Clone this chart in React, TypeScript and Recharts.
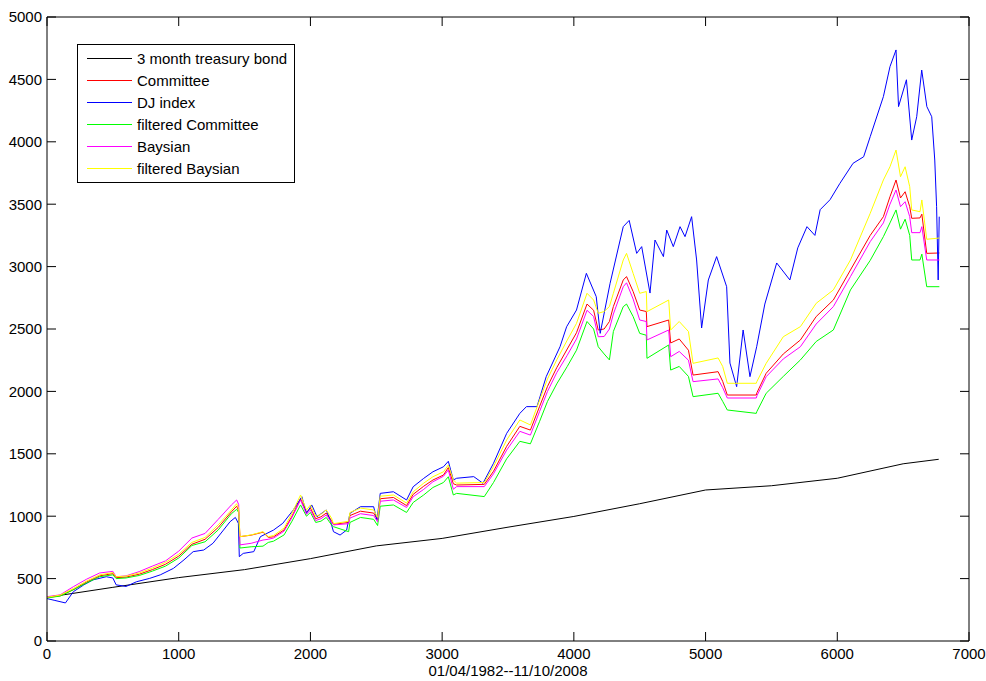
import { Legend, Line, LineChart, ReferenceLine, XAxis, YAxis } from "recharts";

const bondDay = [0, 500, 1000, 1500, 2000, 2500, 3000, 3500, 4000, 4500, 5000, 5500, 6000, 6500, 6770];
const bond = [350, 430, 508, 572, 660, 762, 822, 912, 998, 1100, 1210, 1244, 1304, 1420, 1456];

const djDay = [
  0, 60, 140, 200, 280, 350, 450, 500, 525, 600,
  680, 780, 860, 960, 1040, 1110, 1190, 1260, 1340, 1390,
  1430, 1453, 1460, 1490, 1570, 1620, 1720, 1790, 1870, 1935,
  1970, 2010, 2050, 2120, 2150, 2175, 2225, 2275, 2300, 2380,
  2480, 2505, 2530, 2630, 2730, 2780, 2860, 2930, 3010, 3047,
  3085, 3110, 3240, 3310, 3390, 3490, 3590, 3640, 3720, 3790,
  3895, 3945, 4020, 4095, 4170, 4200, 4275, 4375, 4420, 4477,
  4515, 4578, 4616, 4680, 4705, 4755, 4806, 4844, 4894, 4932,
  4970, 5021, 5084, 5160, 5185, 5236, 5285, 5337, 5388, 5450,
  5540, 5640, 5700, 5770, 5830, 5870, 5945, 6020, 6120, 6200,
  6250, 6350, 6400, 6446, 6465, 6525, 6565, 6603, 6641, 6680,
  6717, 6740, 6754, 6766, 6774,
];
const dj = [
  340, 325, 305, 395, 450, 490, 515, 505, 450, 437,
  475, 502, 530, 582, 650, 716, 729, 783, 889, 956,
  990, 943, 676, 702, 716, 836, 889, 943, 1050, 1156,
  1023, 1090, 996, 1050, 970, 876, 849, 889, 1023, 1076,
  1076, 970, 1183, 1196, 1130, 1236, 1303, 1356, 1396, 1440,
  1290, 1304, 1317, 1264, 1424, 1664, 1824, 1878, 1878, 2118,
  2358, 2518, 2652, 2946, 2759, 2465, 2866, 3320, 3370, 3106,
  3160, 2788, 3213, 3080, 3293, 3160, 3320, 3240, 3400, 3053,
  2508, 2893, 3080, 2839, 2227, 2038, 2492, 2118, 2358, 2700,
  3029, 2893, 3150, 3320, 3250, 3456, 3536, 3667, 3828, 3880,
  4041, 4362, 4602, 4736, 4282, 4497, 4014, 4201, 4575, 4282,
  4201, 3854, 3480, 2893, 3400,
];

const modelDay = [
  0, 100, 200, 300, 400, 500, 525, 600, 700, 800,
  900, 1000, 1100, 1200, 1300, 1400, 1440, 1455, 1465, 1550,
  1640, 1680, 1720, 1800, 1860, 1925, 1970, 2000, 2040, 2080,
  2120, 2160, 2175, 2290, 2300, 2380, 2480, 2510, 2530, 2630,
  2730, 2780, 2860, 2930, 3010, 3047, 3085, 3110, 3320, 3390,
  3490, 3590, 3670, 3740, 3800, 3870, 3950, 4020, 4100, 4150,
  4185, 4230, 4270, 4300, 4375, 4400, 4450, 4500, 4550, 4555,
  4720, 4735, 4800, 4870, 4905, 5095, 5130, 5165, 5385, 5390,
  5460, 5590, 5720, 5840, 5970, 6100, 6250, 6350, 6400, 6446,
  6480, 6515, 6550, 6565, 6628, 6642, 6679, 6775,
];
const committee = [
  348, 362, 412, 472, 522, 540, 508, 512, 535, 572,
  615, 680, 775, 815, 910, 1035, 1080, 1045, 836, 848,
  872, 830, 835, 890, 1000, 1140, 1030, 1065, 980, 995,
  1025, 965, 935, 950, 1005, 1040, 1025, 970, 1140, 1150,
  1085, 1175, 1240, 1290, 1330, 1390, 1260, 1250, 1255, 1360,
  1560, 1720, 1690, 1880, 2040, 2190, 2340, 2470, 2700, 2650,
  2492, 2500, 2560, 2680, 2893, 2920, 2800, 2652, 2640, 2519,
  2572, 2388, 2420, 2330, 2131, 2158, 2080, 1971, 1971, 1990,
  2145, 2300, 2412, 2600, 2732, 2973, 3250, 3400, 3560, 3694,
  3550, 3600, 3480, 3387, 3390, 3420, 3106, 3109,
];
const filteredCommittee = [
  345, 360, 410, 465, 515, 530, 500, 505, 525, 560,
  600, 665, 765, 795, 890, 1020, 1055, 1030, 745, 755,
  760, 790, 800, 850, 960, 1090, 1000, 1030, 950, 960,
  990, 930, 916, 876, 950, 990, 975, 925, 1080, 1090,
  1030, 1110, 1170, 1230, 1270, 1316, 1170, 1183, 1157, 1270,
  1460, 1600, 1580, 1760, 1920, 2060, 2200, 2330, 2560, 2500,
  2358, 2300, 2252, 2480, 2679, 2700, 2600, 2465, 2450, 2265,
  2372, 2171, 2200, 2120, 1958, 1985, 1920, 1851, 1824, 1840,
  1985, 2120, 2252, 2400, 2492, 2813, 3050, 3240, 3350, 3454,
  3300, 3380, 3250, 3053, 3053, 3100, 2839, 2839,
];
const baysian = [
  355, 370, 435, 495, 545, 558, 515, 522, 556, 600,
  642, 720, 825, 862, 975, 1090, 1130, 1095, 770, 783,
  809, 815, 825, 880, 990, 1130, 1015, 1050, 965, 980,
  1010, 950, 930, 940, 985, 1020, 1005, 955, 1120, 1130,
  1070, 1156, 1215, 1276, 1320, 1370, 1216, 1237, 1237, 1340,
  1530, 1680, 1650, 1840, 2000, 2150, 2290, 2420, 2650, 2600,
  2438, 2440, 2500, 2620, 2839, 2870, 2740, 2572, 2560, 2412,
  2492, 2278, 2320, 2250, 2078, 2100, 2030, 1947, 1947, 1965,
  2118, 2260, 2358, 2540, 2679, 2920, 3200, 3350, 3500, 3614,
  3480, 3520, 3400, 3272, 3272, 3320, 3053, 3053,
];
const filteredBaysian = [
  350, 368, 420, 480, 530, 548, 515, 520, 545, 585,
  630, 695, 790, 830, 930, 1050, 1100, 1060, 836, 850,
  876, 836, 845, 905, 1025, 1170, 1050, 1090, 1000, 1015,
  1050, 985, 940, 960, 1030, 1065, 1050, 990, 1160, 1170,
  1105, 1195, 1265, 1316, 1356, 1410, 1290, 1265, 1270, 1397,
  1611, 1771, 1731, 1931, 2100, 2252, 2411, 2545, 2786, 2732,
  2626, 2640, 2680, 2786, 3053, 3106, 2946, 2786, 2800, 2639,
  2732, 2492, 2560, 2480, 2225, 2268, 2200, 2065, 2065, 2080,
  2225, 2438, 2519, 2706, 2813, 3053, 3427, 3694, 3800, 3934,
  3720, 3800, 3640, 3454, 3440, 3534, 3219, 3229,
];

const xTicks = [0, 1000, 2000, 3000, 4000, 5000, 6000, 7000];
const yTicks = [0, 500, 1000, 1500, 2000, 2500, 3000, 3500, 4000, 4500, 5000];

const FONT = "'Liberation Sans', Arial, Helvetica, sans-serif";
const FS = 15;

// plot box edges (pixels), matching the margins below
const PLOT_LEFT = 47;
const PLOT_RIGHT = 969;
const PLOT_TOP = 17;
const PLOT_BOTTOM = 641;
const TICK_LEN = 9;

const toPoints = (days: number[], vals: number[]) =>
  days.map((d, i) => ({ day: d, value: vals[i] }));

// plot order = legend order (last one drawn on top)
const series = [
  { name: "3 month treasury bond", color: "#000000", data: toPoints(bondDay, bond) },
  { name: "Committee", color: "#ff0000", data: toPoints(modelDay, committee) },
  { name: "DJ index", color: "#0000ff", data: toPoints(djDay, dj) },
  { name: "filtered Committee", color: "#00ff00", data: toPoints(modelDay, filteredCommittee) },
  { name: "Baysian", color: "#ff00ff", data: toPoints(modelDay, baysian) },
  { name: "filtered Baysian", color: "#ffff00", data: toPoints(modelDay, filteredBaysian) },
];

// inward ticks on bottom + top, label below
const renderXTick = (props: any) => {
  const { x, y, payload } = props;
  return (
    <g key={`xt-${payload.value}`}>
      <path d={`M${x},${PLOT_BOTTOM}v${-TICK_LEN}M${x},${PLOT_TOP}v${TICK_LEN}`} stroke="#000" strokeWidth={1} fill="none" />
      <text x={x} y={y} dy="0.71em" textAnchor="middle" fill="#000" fontSize={FS} fontFamily={FONT}>
        {payload.value}
      </text>
    </g>
  );
};

// inward ticks on left + right, label at left
const renderYTick = (props: any) => {
  const { x, y, payload } = props;
  return (
    <g key={`yt-${payload.value}`}>
      <path d={`M${PLOT_LEFT},${y}h${TICK_LEN}M${PLOT_RIGHT},${y}h${-TICK_LEN}`} stroke="#000" strokeWidth={1} fill="none" />
      <text x={x} y={y} dy="0.355em" textAnchor="end" fill="#000" fontSize={FS} fontFamily={FONT}>
        {payload.value}
      </text>
    </g>
  );
};

function LegendBox() {
  return (
    <div
      style={{
        width: 216,
        border: "1px solid #000",
        background: "#fff",
        padding: "2px 0 3px 0",
        fontFamily: FONT,
        fontSize: FS,
        color: "#000",
      }}
    >
      {series.map((s) => (
        <div key={s.name} style={{ display: "flex", alignItems: "center", height: 22 }}>
          <span style={{ marginLeft: 9, width: 45, height: 1, background: s.color }} />
          <span style={{ marginLeft: 5, whiteSpace: "nowrap" }}>{s.name}</span>
        </div>
      ))}
    </div>
  );
}

export default function App() {
  return (
    <div style={{ position: "absolute", left: 0, top: 0, width: 986, height: 681, background: "#fff" }}>
      <LineChart
        width={986}
        height={681}
        margin={{ top: PLOT_TOP, right: 986 - PLOT_RIGHT, bottom: 0, left: 0 }}
      >
        <XAxis
          xAxisId="b"
          type="number"
          dataKey="day"
          domain={[0, 7000]}
          ticks={xTicks}
          interval={0}
          height={681 - PLOT_BOTTOM}
          tickLine={false}
          tickSize={0}
          tickMargin={7}
          tick={renderXTick}
          stroke="#000"
          allowDataOverflow
          label={{
            value: "01/04/1982--11/10/2008",
            position: "insideBottom",
            offset: 5,
            style: { fill: "#000", fontSize: FS, fontFamily: FONT },
          }}
        />
        <YAxis
          yAxisId="l"
          type="number"
          domain={[0, 5000]}
          ticks={yTicks}
          interval={0}
          width={PLOT_LEFT}
          tickLine={false}
          tickSize={0}
          tickMargin={5}
          tick={renderYTick}
          stroke="#000"
        />
        <ReferenceLine xAxisId="b" yAxisId="l" y={5000} stroke="#000" strokeWidth={1} />
        <ReferenceLine xAxisId="b" yAxisId="l" x={7000} stroke="#000" strokeWidth={1} />
        <Legend
          layout="horizontal"
          verticalAlign="middle"
          align="center"
          wrapperStyle={{ left: 77, top: 44, width: 218 }}
          content={() => <LegendBox />}
        />
        {series.map((s) => (
          <Line
            key={s.name}
            xAxisId="b"
            yAxisId="l"
            data={s.data}
            dataKey="value"
            name={s.name}
            type="linear"
            stroke={s.color}
            strokeWidth={1}
            dot={false}
            isAnimationActive={false}
          />
        ))}
      </LineChart>
    </div>
  );
}
